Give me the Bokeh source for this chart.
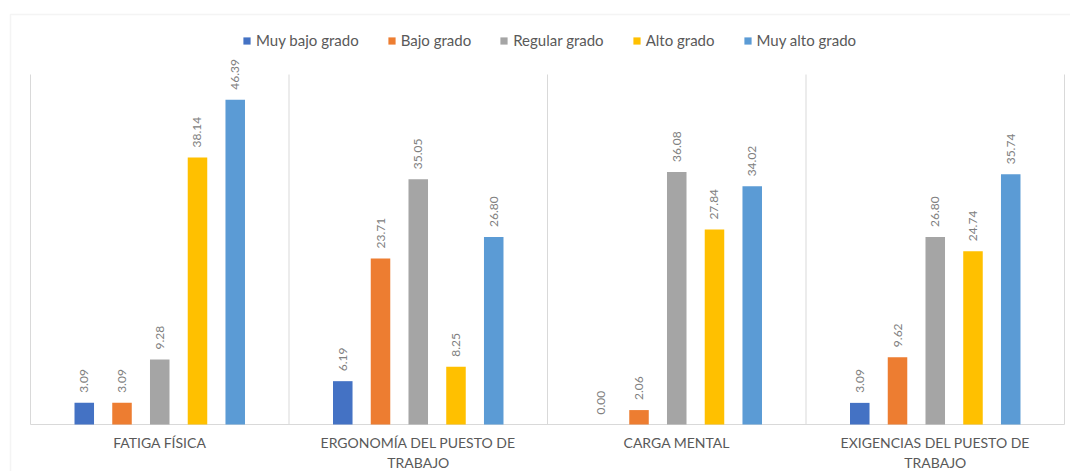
from bokeh.plotting import figure
from bokeh.models import (Range1d, ColumnDataSource, Legend, LegendItem, BoxAnnotation)
from bokeh.transform import dodge
from bokeh.core.properties import value
from bokeh.embed import file_html
from bokeh.resources import INLINE
import math

categories = ["FATIGA FÍSICA", "ERGONOMÍA DEL PUESTO DE\nTRABAJO", "CARGA MENTAL",
              "EXIGENCIAS DEL PUESTO DE\nTRABAJO"]
series_names = ["Muy bajo grado", "Bajo grado", "Regular grado", "Alto grado", "Muy alto grado"]
muy_bajo = [3.09, 6.19, 0.00, 3.09]
bajo = [3.09, 23.71, 2.06, 9.62]
regular = [9.28, 35.05, 36.08, 26.80]
alto = [38.14, 8.25, 27.84, 24.74]
muy_alto = [46.39, 26.80, 34.02, 35.74]
colors = ["#4472C4", "#ED7D31", "#A5A5A5", "#FFC000", "#5B9BD5"]
Y_MAX = 50

FONT = "Lato"
W, H = 1070, 471
# layout in pixels
PLOT_LEFT, PLOT_RIGHT, BASE_Y = 30, 1064, 424
n = len(categories)
px_x = (PLOT_RIGHT - PLOT_LEFT) / n
px_y = (BASE_Y - 74) / Y_MAX

p = figure(width=W, height=H, output_backend="svg", toolbar_location=None,
           x_range=Range1d(-PLOT_LEFT / px_x, (W - PLOT_LEFT) / px_x),
           y_range=Range1d(-(H - BASE_Y) / px_y, BASE_Y / px_y),
           min_border=0)
p.axis.visible = False
p.grid.visible = False
p.outline_line_color = None

bounds = list(range(n + 1))
p.segment(x0=bounds, x1=bounds, y0=0, y1=Y_MAX, line_color="#d9d9d9", line_width=1)
p.segment(x0=[0], x1=[n], y0=0, y1=0, line_color="#d9d9d9", line_width=1)

centers = [i + 0.5 for i in range(n)]
p.text(x=centers, y=[0] * n, text=categories, text_align="center", text_baseline="top",
       y_offset=9, text_font=value(FONT), text_font_size="14px", text_color="#595959",
       text_line_height=1.2)

all_series = [muy_bajo, bajo, regular, alto, muy_alto]
step = 0.146
items = []
for k, (name, vals, col) in enumerate(zip(series_names, all_series, colors)):
    src = ColumnDataSource(dict(x=centers, y=vals, lab=["%.2f" % v for v in vals]))
    off = (k - 2) * step
    r = p.vbar(x=dodge("x", off), top="y", width=0.0755, bottom=0, source=src,
               fill_color=col, line_color=None)
    p.text(x=dodge("x", off), y="y", text="lab", source=src, angle=math.pi / 2,
           text_align="left", text_baseline="middle", y_offset=-10,
           text_font=value(FONT), text_font_size="12px", text_color="#808080")
    items.append(LegendItem(label=name, renderers=[r]))

legend = Legend(items=items, orientation="horizontal", location=(242, H - 49),
                label_text_font=FONT, label_text_font_size="15px",
                label_text_color="#595959", glyph_width=9, glyph_height=9,
                spacing=28, padding=0, margin=0, border_line_color=None,
                background_fill_alpha=0, label_standoff=5)
p.add_layout(legend, "center")

border = BoxAnnotation(left=10, right=1100, top=14, bottom=520,
                       left_units="canvas", right_units="canvas",
                       top_units="canvas", bottom_units="canvas",
                       fill_alpha=0, line_color="#d9d9d9", line_width=1.5)
p.add_layout(border)

open("out.html", "w").write(file_html(p, INLINE))
